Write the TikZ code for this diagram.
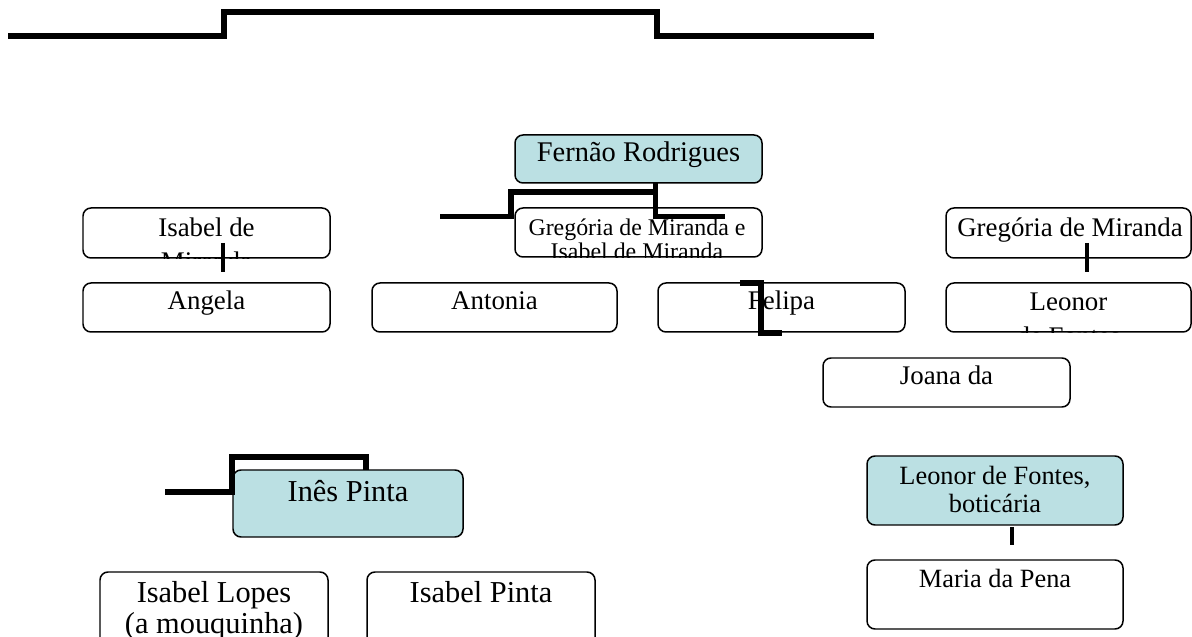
\documentclass[tikz,border=0pt]{standalone}
\usepackage{fontspec}
\setmainfont{Liberation Serif}

\definecolor{boxteal}{RGB}{187,224,227}

\tikzset{
  box/.style={draw, line width=0.85pt, rounded corners=0.16cm, inner sep=0pt},
  tealbox/.style={box, fill=boxteal},
  txt/.style={anchor=base, inner sep=0pt, font=\fontsize{15.3}{18}\selectfont},
  txtsmall/.style={anchor=base, inner sep=0pt, font=\fontsize{13.6}{16}\selectfont},
  txtbig/.style={anchor=base, inner sep=0pt, font=\fontsize{17.3}{20}\selectfont},
  link/.style={line width=3.1pt},
  stub/.style={line width=2.4pt},
}

\begin{document}
\begin{tikzpicture}

    % Page frame (same proportions as the chart)
    \useasboundingbox (0,0) rectangle (23.84,-12.74);

    % Thick line at the top
    \coordinate (topL) at (0.16,-0.72);
    \coordinate (topR) at (17.48,-0.72);
    \draw[line width=3.4pt] (topL) -- (4.48,-0.72) -- (4.48,-0.24) -- (13.14,-0.24) -- (13.14,-0.72) -- (topR);

    % Fernão Rodrigues (teal)
    \node[tealbox, minimum width=4.94cm, minimum height=0.96cm] (fernao) at (12.77,-3.18) {};
    \node[txt, font=\fontsize{16.2}{19}\selectfont] (fernaoTxt) at (12.77,-3.24) {Fernão Rodrigues};

    % Gregória de Miranda e Isabel de Miranda
    \node[box, minimum width=4.94cm, minimum height=0.98cm] (gregIsabel) at (12.77,-4.65) {};
    \begin{scope}
      \clip[rounded corners=0.16cm] (gregIsabel.south west) rectangle (gregIsabel.north east);
      \node[txtsmall] (gregIsabelTxtA) at (12.74,-4.72) {Gregória de Miranda e};
      \node[txtsmall] (gregIsabelTxtB) at (12.74,-5.20) {Isabel de Miranda};
    \end{scope}

    % Lines below Fernão Rodrigues
    \coordinate (fernaoDrop) at (13.11,-3.66);
    \coordinate (fernaoL) at (8.80,-4.33);
    \coordinate (fernaoR) at (14.50,-4.33);
    \draw[link] (fernaoDrop) |- (fernaoR);
    \draw[link] (fernaoL) -- (10.22,-4.33) -- (10.22,-3.84) -- (13.11,-3.84);

    % Isabel de Miranda
    \node[box, minimum width=4.94cm, minimum height=1.00cm] (isabelMir) at (4.13,-4.66) {};
    \begin{scope}
      \clip[rounded corners=0.16cm] (isabelMir.south west) rectangle (isabelMir.north east);
      \node[txt] (isabelMirTxtA) at (4.13,-4.74) {Isabel de};
      \node[txt] (isabelMirTxtB) at (4.13,-5.42) {Miranda};
    \end{scope}

    % Angela
    \node[box, minimum width=4.94cm, minimum height=0.98cm] (angela) at (4.13,-6.15) {};
    \node[txt] (angelaTxt) at (4.13,-6.20) {Angela};
    \draw[stub] (4.46,-4.86) -- (4.46,-5.44);

    % Antonia
    \node[box, minimum width=4.90cm, minimum height=0.98cm] (antonia) at (9.89,-6.15) {};
    \node[txt] (antoniaTxt) at (9.89,-6.20) {Antonia};

    % Felipa (with the odd bracket on top)
    \node[box, minimum width=4.94cm, minimum height=0.98cm] (felipa) at (15.63,-6.15) {};
    \node[txt] (felipaTxt) at (15.63,-6.20) {Felipa};
    \draw[link] (14.80,-5.66) -- (15.22,-5.66) -- (15.22,-6.66) -- (15.64,-6.66);

    % Gregória de Miranda
    \node[box, minimum width=4.90cm, minimum height=1.00cm] (gregoria) at (21.37,-4.66) {};
    \node[txt] (gregoriaTxt) at (21.40,-4.74) {Gregória de Miranda};

    % Leonor
    \node[box, minimum width=4.90cm, minimum height=0.98cm] (leonor) at (21.37,-6.15) {};
    \begin{scope}
      \clip[rounded corners=0.16cm] (leonor.south west) rectangle (leonor.north east);
      \node[txt] (leonorTxtA) at (21.37,-6.22) {Leonor};
      \node[txt] (leonorTxtB) at (21.37,-6.92) {de Fontes};
    \end{scope}
    \draw[stub] (21.74,-4.86) -- (21.74,-5.44);

    % Joana da
    \node[box, minimum width=4.94cm, minimum height=0.98cm] (joana) at (18.93,-7.65) {};
    \node[txt] (joanaTxt) at (18.93,-7.70) {Joana da};

    % Inês Pinta (teal)
    \node[tealbox, minimum width=4.60cm, minimum height=1.34cm] (ines) at (6.96,-10.07) {};
    \node[txtbig] (inesTxt) at (6.96,-10.04) {Inês Pinta};
    \draw[link] (3.30,-9.84) -- (4.64,-9.84) -- (4.64,-9.14) -- (7.32,-9.14) -- (7.32,-9.40);

    % Isabel Lopes (a mouquinha)
    \node[box, minimum width=4.56cm, minimum height=1.96cm] (isabelLopes) at (4.28,-12.42) {};
    \node[txtbig] (isabelLopesTxtA) at (4.28,-12.06) {Isabel Lopes};
    \node[txtbig] (isabelLopesTxtB) at (4.28,-12.68) {(a mouquinha)};

    % Isabel Pinta
    \node[box, minimum width=4.56cm, minimum height=1.96cm] (isabelPinta) at (9.62,-12.42) {};
    \node[txtbig] (isabelPintaTxt) at (9.62,-12.06) {Isabel Pinta};

    % Leonor de Fontes, boticária (teal)
    \node[tealbox, minimum width=5.12cm, minimum height=1.38cm] (leonorF) at (19.90,-9.81) {};
    \node[txt, font=\fontsize{15}{18}\selectfont] (leonorFTxtA) at (19.90,-9.70) {Leonor de Fontes,};
    \node[txt, font=\fontsize{15}{18}\selectfont] (leonorFTxtB) at (19.90,-10.26) {boticária};

    % Maria da Pena
    \node[box, minimum width=5.12cm, minimum height=1.38cm] (maria) at (19.90,-11.89) {};
    \node[txt, font=\fontsize{15}{18}\selectfont] (mariaTxt) at (19.90,-11.74) {Maria da Pena};
    \draw[stub] (20.24,-10.54) -- (20.24,-10.90);

\end{tikzpicture}
\end{document}
